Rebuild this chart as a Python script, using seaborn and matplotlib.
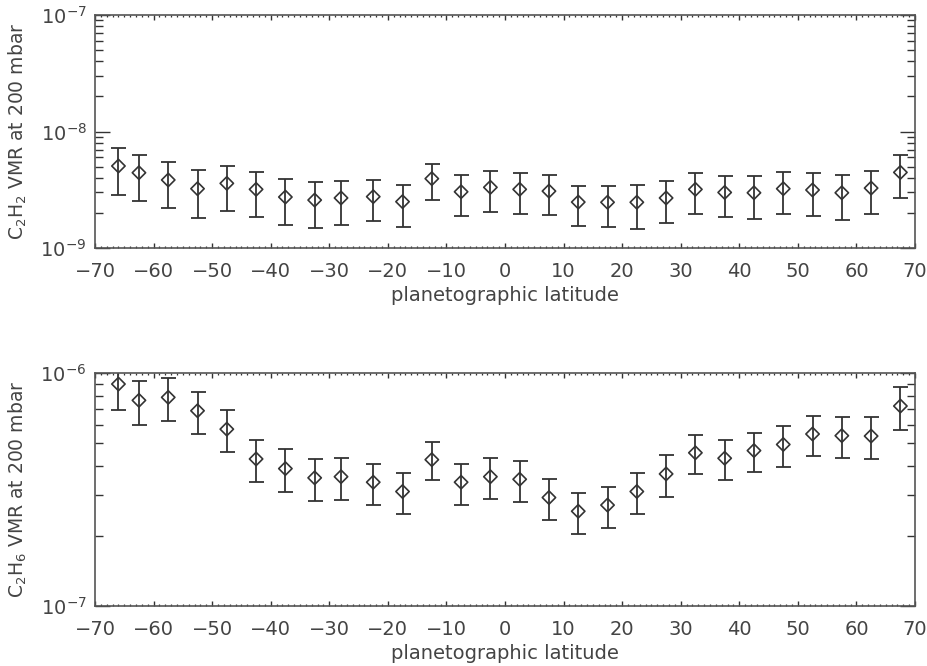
import numpy as np
import matplotlib
matplotlib.use("Agg")
import matplotlib.pyplot as plt
import seaborn as sns
from matplotlib.ticker import LogLocator, NullFormatter, LogFormatterSciNotation, MultipleLocator

# Planetographic latitude of each bin centre (degrees)
latitude = [-66, -62.5, -57.5, -52.5, -47.5, -42.5, -37.5, -32.5, -28, -22.5,
            -17.5, -12.5, -7.5, -2.5, 2.5, 7.5, 12.5, 17.5, 22.5, 27.5,
            32.5, 37.5, 42.5, 47.5, 52.5, 57.5, 62.5, 67.5]

# C2H2 volume mixing ratio at 200 mbar and its 1-sigma uncertainty
c2h2_vmr = [5.06e-9, 4.43e-9, 3.84e-9, 3.23e-9, 3.59e-9, 3.19e-9, 2.74e-9, 2.58e-9,
            2.69e-9, 2.76e-9, 2.50e-9, 3.94e-9, 3.04e-9, 3.32e-9, 3.19e-9, 3.08e-9,
            2.48e-9, 2.47e-9, 2.47e-9, 2.69e-9, 3.19e-9, 3.00e-9, 2.98e-9, 3.23e-9,
            3.15e-9, 2.98e-9, 3.27e-9, 4.46e-9]
c2h2_err = [2.20e-9, 1.89e-9, 1.62e-9, 1.41e-9, 1.50e-9, 1.34e-9, 1.17e-9, 1.10e-9,
            1.10e-9, 1.07e-9, 0.98e-9, 1.34e-9, 1.17e-9, 1.29e-9, 1.22e-9, 1.15e-9,
            0.92e-9, 0.94e-9, 1.00e-9, 1.05e-9, 1.23e-9, 1.17e-9, 1.20e-9, 1.27e-9,
            1.27e-9, 1.25e-9, 1.32e-9, 1.78e-9]

# C2H6 volume mixing ratio at 200 mbar and its 1-sigma uncertainty
c2h6_vmr = [8.99e-7, 7.65e-7, 7.88e-7, 6.90e-7, 5.75e-7, 4.28e-7, 3.89e-7, 3.55e-7,
            3.59e-7, 3.40e-7, 3.10e-7, 4.25e-7, 3.40e-7, 3.59e-7, 3.50e-7, 2.92e-7,
            2.55e-7, 2.71e-7, 3.10e-7, 3.69e-7, 4.55e-7, 4.31e-7, 4.65e-7, 4.94e-7,
            5.48e-7, 5.39e-7, 5.37e-7, 7.23e-7]
c2h6_err = [2.05e-7, 1.65e-7, 1.65e-7, 1.42e-7, 1.18e-7, 0.89e-7, 0.82e-7, 0.74e-7,
            0.75e-7, 0.68e-7, 0.61e-7, 0.79e-7, 0.68e-7, 0.72e-7, 0.70e-7, 0.59e-7,
            0.51e-7, 0.54e-7, 0.63e-7, 0.74e-7, 0.87e-7, 0.84e-7, 0.90e-7, 0.97e-7,
            1.08e-7, 1.09e-7, 1.09e-7, 1.50e-7]

xticks = list(range(-70, 71, 10))

sns.set_theme(style="ticks")
plt.rcParams["font.family"] = ["DejaVu Sans"]

INK = "#333333"
TXT = "#444444"

fig = plt.figure(figsize=(9.27, 6.66), dpi=100)
ax_top = fig.add_axes([0.1025, 0.6276, 0.8846, 0.3498])
ax_bot = fig.add_axes([0.1025, 0.0905, 0.8846, 0.3490])

panels = [
    (ax_top, c2h2_vmr, c2h2_err, (1e-9, 1e-7), r"C$_2$H$_2$ VMR at 200 mbar"),
    (ax_bot, c2h6_vmr, c2h6_err, (1e-7, 1e-6), r"C$_2$H$_6$ VMR at 200 mbar"),
]

for ax, vmr, err, ylim, ylabel in panels:
    df = {"lat": latitude, "vmr": vmr}
    ax.errorbar(latitude, vmr, yerr=err, fmt="none", ecolor=INK,
                elinewidth=1.3, capsize=5.4, capthick=1.3, zorder=2)
    sns.scatterplot(x="lat", y="vmr", data=df, ax=ax, marker="D", s=46,
                    facecolor="none", edgecolor=INK, linewidth=1.2, zorder=3)
    ax.set_yscale("log")
    ax.set_ylim(*ylim)
    ax.set_xlim(-70, 70)
    ax.set_xticks(xticks)
    ax.xaxis.set_minor_locator(MultipleLocator(1))
    ax.yaxis.set_major_locator(LogLocator(base=10, numticks=10))
    ax.yaxis.set_minor_locator(LogLocator(base=10, subs=np.arange(2, 10), numticks=20))
    ax.yaxis.set_major_formatter(LogFormatterSciNotation())
    ax.yaxis.set_minor_formatter(NullFormatter())
    ax.tick_params(axis="x", which="major", direction="in", length=3.5, width=1.0,
                   top=True, bottom=True, color=INK, labelsize=14, labelcolor=TXT, pad=10)
    ax.tick_params(axis="x", which="minor", direction="in", length=1.6, width=0.9,
                   top=True, bottom=True, color=INK)
    ax.tick_params(axis="y", which="major", direction="in", length=11, width=1.0,
                   left=True, right=True, color=INK, labelsize=14, labelcolor=TXT, pad=6)
    ax.tick_params(axis="y", which="minor", direction="in", length=6, width=1.0,
                   left=True, right=True, color=INK)
    for sp in ax.spines.values():
        sp.set_color("#555555")
        sp.set_linewidth(1.2)
    ax.set_xlabel("planetographic latitude", fontsize=14, color=TXT, labelpad=4)
    ax.set_ylabel(ylabel, fontsize=13.5, color=TXT)
    ax.yaxis.set_label_coords(-0.081, 0.5)

fig.savefig("out.png", dpi=100)
